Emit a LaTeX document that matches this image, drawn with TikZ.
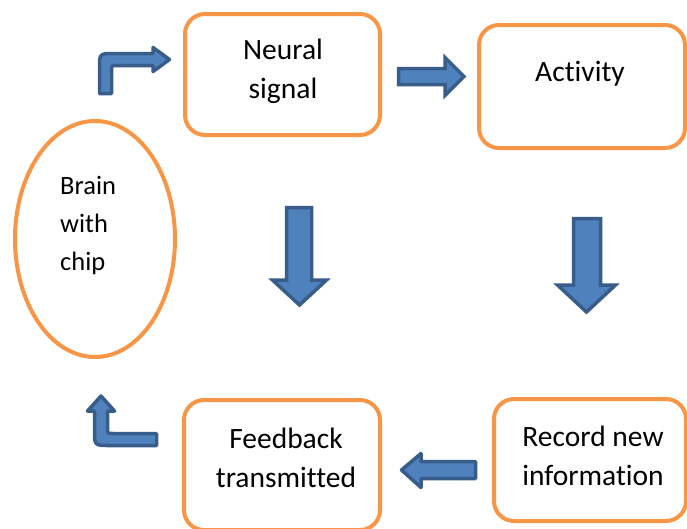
\documentclass[tikz,border=0pt]{standalone}
\usepackage{fontspec}
\setmainfont{Carlito}[Ligatures=NoCommon]
\usetikzlibrary{shapes.geometric}
\definecolor{orng}{HTML}{F79646}
\definecolor{bfill}{HTML}{4F81BD}
\definecolor{bline}{HTML}{385D8A}
\begin{document}
\begin{tikzpicture}[x=1pt,y=-1pt,
  box/.style={draw=orng,line width=4pt,rounded corners=20pt,fill=white},
  lbl/.style={align=center,inner sep=0pt,font=\fontsize{29.5}{39}\selectfont},
  blockarrow/.style={fill=bfill,draw=bline,line width=3.5pt,line join=round}]
\useasboundingbox[fill=white] (0,0) rectangle (687,528);
% boxes
\node[box,minimum width=195pt,minimum height=121pt] (neural) at (282.5,74.5) {};
\node[box,minimum width=206pt,minimum height=123pt] (activity) at (582,86.5) {};
\node[box,minimum width=192pt,minimum height=122pt] (record) at (590,460) {};
\node[box,minimum width=196pt,minimum height=130pt] (feedback) at (282,465) {};
\node[draw=orng,line width=4pt,ellipse,minimum width=160pt,minimum height=236pt,inner sep=0pt] (brain) at (95,239) {};
% labels
\node[lbl] (neuraltxt) at (283,71) {Neural\\signal};
\node[lbl] (activitytxt) at (580,74) {Activity};
\node[lbl] (recordtxt) at (593,456) {Record new\\information};
\node[lbl] (feedbacktxt) at (286,458) {Feedback\\transmitted};
\node[lbl,align=left,anchor=west,font=\fontsize{26.5}{38}\selectfont] (braintxt) at (60,226) {Brain\\with\\chip};
% block arrows
\draw[blockarrow] (99.5,93.5) -- (99.5,68) .. controls (99.5,53.5) .. (114,53.5) -- (153,53.5) -- (153,47.5) -- (169.5,59.5) -- (153,71.5) -- (153,65.5) -- (117,65.5) .. controls (111.5,65.5) .. (111.5,71) -- (111.5,93.5) -- cycle;
\draw[blockarrow,line join=miter] (398.5,68.5) -- (445,68.5) -- (445,57.5) -- (464,76.5) -- (445,95.5) -- (445,84.5) -- (398.5,84.5) -- cycle;
\draw[blockarrow,line join=miter] (286.5,207.5) -- (311.5,207.5) -- (311.5,280) -- (326.5,280) -- (299.5,305) -- (272.5,280) -- (286.5,280) -- cycle;
\draw[blockarrow,line join=miter] (573.5,218.5) -- (600.5,218.5) -- (600.5,285) -- (615.5,285) -- (586.5,312) -- (557.5,285) -- (573.5,285) -- cycle;
\draw[blockarrow] (475.5,461.5) -- (421,461.5) -- (421,453.5) -- (401.5,470) -- (421,487.5) -- (421,478.5) -- (475.5,478.5) -- cycle;
\draw[blockarrow] (101,396) -- (114.5,411) -- (107.5,411) -- (107.5,428) .. controls (107.5,433.5) .. (113,433.5) -- (156.5,433.5) -- (156.5,445.5) -- (109.5,445.5) .. controls (94.5,445.5) .. (94.5,430.5) -- (94.5,411) -- (87.5,411) -- cycle;
\end{tikzpicture}
\end{document}
